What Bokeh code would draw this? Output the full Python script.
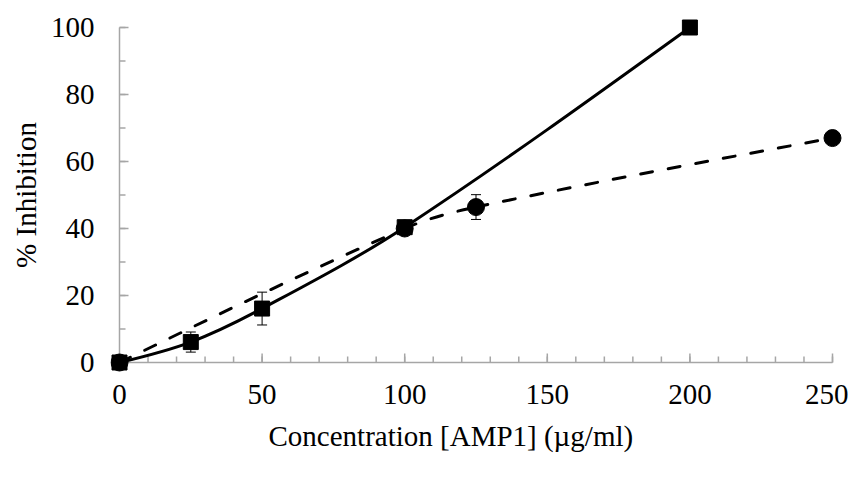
import numpy as np
from bokeh.plotting import figure
from bokeh.models import Range1d, FixedTicker, Whisker, TeeHead, ColumnDataSource, Title
from bokeh.embed import file_html
from bokeh.resources import INLINE

# ---- data ----
conc_square = [0, 25, 50, 100, 200]
inhib_square = [0, 6.1, 16.1, 40.4, 100]
err_square = [0, 3.0, 4.9, 0, 0]

conc_circle = [0, 100, 125, 250]
inhib_circle = [0, 40, 46.4, 67]
err_circle = [0, 0, 3.7, 0]

x_ticks = [0, 50, 100, 150, 200, 250]
x_minor = list(range(0, 251, 10))
y_ticks = [0, 20, 40, 60, 80, 100]
y_minor = list(range(0, 101, 10))

x_title = "Concentration [AMP1] (µg/ml)"
y_title = "% Inhibition"

FONT = "Liberation Serif"
FS = "29px"
AXIS_COLOR = "#a6a6a6"


def smooth_segments(xs, ys):
    """Cubic Hermite (x-parametrised) smoothing as bezier control points."""
    n = len(xs)
    m = [0.0] * n
    for i in range(1, n - 1):
        m[i] = (ys[i + 1] - ys[i - 1]) / (xs[i + 1] - xs[i - 1])
    s0 = (ys[1] - ys[0]) / (xs[1] - xs[0])
    sn = (ys[-1] - ys[-2]) / (xs[-1] - xs[-2])
    m[0] = (3 * s0 - m[1]) / 2 if n > 2 else s0
    m[-1] = (3 * sn - m[-2]) / 2 if n > 2 else sn
    out = {k: [] for k in ("x0", "y0", "x1", "y1", "cx0", "cy0", "cx1", "cy1")}
    for i in range(n - 1):
        h = xs[i + 1] - xs[i]
        out["x0"].append(xs[i]); out["y0"].append(ys[i])
        out["x1"].append(xs[i + 1]); out["y1"].append(ys[i + 1])
        out["cx0"].append(xs[i] + h / 3); out["cy0"].append(ys[i] + m[i] * h / 3)
        out["cx1"].append(xs[i + 1] - h / 3); out["cy1"].append(ys[i + 1] - m[i + 1] * h / 3)
    return out


px_x = 713 / 250.0
px_y = 335 / 100.0
PAD_L, PAD_R, PAD_T, PAD_B = 9, 12, 10, 10
p = figure(
    frame_width=713 + PAD_L + PAD_R, frame_height=335 + PAD_T + PAD_B,
    x_range=Range1d(x_ticks[0] - PAD_L / px_x, x_ticks[-1] + PAD_R / px_x),
    y_range=Range1d(y_ticks[0] - PAD_B / px_y, y_ticks[-1] + PAD_T / px_y),
    output_backend="svg", toolbar_location=None,
    min_border_left=110, min_border_top=17, min_border_right=4, min_border_bottom=10,
)
p.outline_line_color = None
p.grid.visible = False
p.background_fill_color = "white"
p.border_fill_color = "white"

# the library axes carry only the tick labels (axis lines/ticks drawn at data 0 below)
for ax in (p.xaxis[0], p.yaxis[0]):
    ax.axis_line_color = None
    ax.major_tick_line_color = None
    ax.minor_tick_line_color = None
    ax.major_tick_in = 0
    ax.major_tick_out = 0
    ax.minor_tick_in = 0
    ax.minor_tick_out = 0
    ax.major_label_text_font = FONT
    ax.major_label_text_font_size = FS
    ax.major_label_text_color = "black"
    ax.axis_label_text_font = FONT
    ax.axis_label_text_font_size = FS
    ax.axis_label_text_font_style = "normal"
    ax.axis_label_text_color = "black"

p.xaxis.ticker = FixedTicker(ticks=x_ticks, minor_ticks=[])
p.yaxis.ticker = FixedTicker(ticks=y_ticks, minor_ticks=[])
p.xaxis.major_label_standoff = 12
p.yaxis.major_label_standoff = 16
p.yaxis.axis_label = y_title
p.yaxis.axis_label_standoff = 6

p.add_layout(Title(text=x_title, align="left", offset=158, vertical_align="top",
                   standoff=26, text_font=FONT, text_font_size=FS,
                   text_font_style="normal", text_color="black"), "below")

# axis lines at data zero
p.segment(x0=[x_ticks[0], x_ticks[0]], y0=[y_ticks[0], y_ticks[0]],
          x1=[x_ticks[-1], x_ticks[0]], y1=[y_ticks[0], y_ticks[-1]],
          line_color=AXIS_COLOR, line_width=1.5)
# inward tick marks (screen-length rays)
p.ray(x=x_minor, y=[0] * len(x_minor), length=6, length_units="screen",
      angle=np.pi / 2, line_color=AXIS_COLOR, line_width=1.5)
p.ray(x=x_ticks, y=[0] * len(x_ticks), length=9, length_units="screen",
      angle=np.pi / 2, line_color=AXIS_COLOR, line_width=1.5)
p.ray(x=[0] * len(y_minor), y=y_minor, length=6, length_units="screen",
      angle=0, line_color=AXIS_COLOR, line_width=1.5)
p.ray(x=[0] * len(y_ticks), y=y_ticks, length=9, length_units="screen",
      angle=0, line_color=AXIS_COLOR, line_width=1.5)

# smoothed lines
sq = smooth_segments(conc_square, inhib_square)
p.bezier(x0=sq["x0"], y0=sq["y0"], x1=sq["x1"], y1=sq["y1"],
         cx0=sq["cx0"], cy0=sq["cy0"], cx1=sq["cx1"], cy1=sq["cy1"],
         line_color="black", line_width=3)
ci = smooth_segments(conc_circle, inhib_circle)
p.bezier(x0=ci["x0"], y0=ci["y0"], x1=ci["x1"], y1=ci["y1"],
         cx0=ci["cx0"], cy0=ci["cy0"], cx1=ci["cx1"], cy1=ci["cy1"],
         line_color="black", line_width=3, line_dash="12 16", line_cap="round")

# error bars
def err_source(xs, ys, es):
    keep = [i for i, e in enumerate(es) if e > 0]
    return ColumnDataSource(dict(
        x=[xs[i] for i in keep],
        upper=[ys[i] + es[i] for i in keep],
        lower=[ys[i] - es[i] for i in keep],
    ))

for src in (err_source(conc_square, inhib_square, err_square),
            err_source(conc_circle, inhib_circle, err_circle)):
    p.add_layout(Whisker(source=src, base="x", upper="upper", lower="lower",
                         line_color="black", line_width=1,
                         upper_head=TeeHead(size=10, line_color="black", line_width=1),
                         lower_head=TeeHead(size=10, line_color="black", line_width=1)))

# markers
p.scatter(conc_square, inhib_square, marker="square", size=15,
          fill_color="black", line_color="black")
p.scatter(conc_circle, inhib_circle, marker="circle", size=17,
          fill_color="black", line_color="black")

open("out.html", "w").write(file_html(p, INLINE))
